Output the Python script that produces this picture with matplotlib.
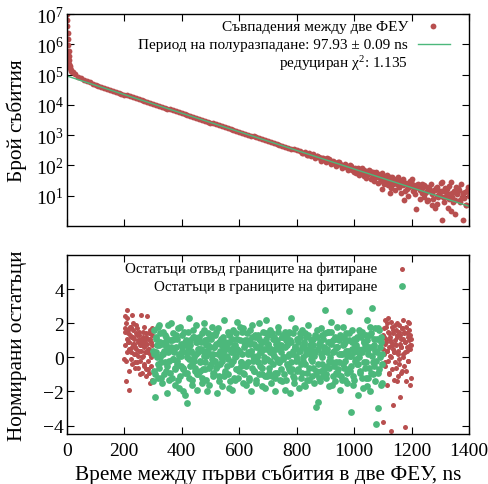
import numpy as np
import matplotlib
matplotlib.use('Agg')
import matplotlib.pyplot as plt
from matplotlib.ticker import LogLocator, NullFormatter, MultipleLocator

plt.rcParams['font.family'] = ['Liberation Serif', 'DejaVu Serif']
plt.rcParams['mathtext.fontset'] = 'custom'
plt.rcParams['mathtext.rm'] = 'Liberation Serif'
plt.rcParams['mathtext.it'] = 'Liberation Serif:italic'

RED = '#b84f4f'
GREEN = '#4cb87b'

# --- top panel: coincidence histogram (counts per bin) ---
# steep prompt peak at the very start
spike_time = [0, 1, 2, 3, 4, 5, 6, 7, 8, 9, 10, 12, 14, 16, 18]
spike_counts = [1.0e7, 6.5e6, 4.0e6, 2.4e6, 1.5e6, 9.5e5, 6.2e5, 4.2e5, 3.0e5,
                2.3e5, 1.9e5, 1.6e5, 1.4e5, 1.3e5, 1.25e5]

# main decay, one value every 10 ns from 20 to 1400 ns
decay_time = np.arange(20, 1401, 10)
decay_counts = [
    1.20e5, 1.02e5, 8.6e4, 7.5e4, 6.7e4, 6.0e4, 5.5e4, 5.0e4, 4.65e4, 4.25e4,
    3.92e4, 3.63e4, 3.37e4, 3.13e4, 2.92e4, 2.72e4, 2.52e4, 2.35e4, 2.19e4, 2.04e4,
    1.90e4, 1.77e4, 1.64e4, 1.535e4, 1.43e4, 1.33e4, 1.24e4, 1.155e4, 1.075e4, 1.00e4,
    9350, 8710, 8110, 7550, 7050, 6560, 6110, 5690, 5310, 4940,
    4600, 4290, 4000, 3720, 3470, 3230, 3010, 2810, 2610, 2430,
    2270, 2110, 1970, 1840, 1710, 1590, 1480, 1380, 1290, 1200,
    1120, 1040, 970, 904, 841, 785, 731, 681, 634, 592,
    551, 513, 478, 446, 415, 386, 361, 336, 313, 300,
    265, 262, 228, 225, 198, 200, 170, 172, 160, 138,
    141, 128, 112, 113, 98, 99, 84, 86, 78, 69,
    72, 58, 62, 51, 55, 44, 49, 39, 42, 33,
    38, 29, 33, 25, 29, 22, 27, 19, 24, 16,
    21, 15, 19, 13, 17, 11, 16, 10, 14, 9,
    13, 8, 12, 7, 11, 6, 12, 5, 10,
]

# extra scattered bins in the noisy tail
tail_time = [905, 925, 945, 965, 985, 1005, 1015, 1025, 1035, 1045,
             1055, 1065, 1075, 1085, 1095, 1097, 1105, 1115, 1124, 1125,
             1135, 1145, 1155, 1165, 1174, 1175, 1185, 1195, 1202, 1205,
             1215, 1217, 1225, 1235, 1238, 1245, 1253, 1255, 1265, 1275,
             1282, 1285, 1290, 1295, 1305, 1306, 1307, 1315, 1325, 1335,
             1336, 1339, 1345, 1355, 1365, 1375, 1380, 1383, 1385, 1395]
tail_counts = [170, 121, 131, 93, 100, 68, 82, 57, 70, 48,
               66, 62, 40, 53, 30, 17, 45, 28, 12, 41,
               24, 35, 19, 31, 7, 26, 17, 30, 35, 14,
               22, 3.7, 18, 12, 25, 9, 6.9, 20, 14, 8,
               4, 18, 5.4, 11, 1.6, 14, 28, 9, 17, 11,
               3.2, 28, 6, 20, 15, 9, 1.6, 8.2, 13, 17]

# more tail bins, (time ns, counts)
tail_pairs = [
    (822, 250), (828, 280), (836, 215), (843, 250), (851, 205), (857, 240), (864, 170),
    (871, 205), (878, 185), (884, 140), (892, 180), (898, 150), (903, 125), (912, 160),
    (918, 110), (927, 145), (933, 118), (938, 95), (947, 125), (953, 100), (958, 80),
    (967, 110), (972, 88), (978, 70), (988, 95), (993, 72), (998, 60),
    (1003, 85), (1008, 55), (1013, 75), (1018, 48), (1023, 68), (1028, 80), (1033, 45),
    (1038, 62), (1043, 38), (1048, 58), (1053, 70), (1058, 36), (1063, 52), (1068, 30),
    (1072, 47), (1078, 60), (1082, 27), (1088, 44), (1093, 35), (1098, 55), (1103, 25),
    (1108, 38), (1113, 48), (1118, 22), (1123, 36), (1128, 18), (1133, 42), (1138, 26),
    (1143, 15), (1148, 32), (1153, 40), (1158, 20), (1163, 12), (1168, 28), (1172, 35),
    (1178, 14), (1183, 24), (1188, 10), (1193, 22), (1198, 30), (1208, 20), (1212, 11),
    (1222, 25), (1228, 8), (1232, 16), (1242, 22), (1248, 12), (1258, 7), (1262, 18),
    (1268, 24), (1272, 5), (1278, 15), (1288, 20), (1292, 9), (1298, 13), (1302, 26),
    (1312, 6), (1318, 18), (1322, 11), (1328, 4), (1332, 21), (1342, 9), (1348, 14),
    (1352, 2.5), (1358, 12), (1362, 18), (1368, 7), (1372, 25), (1378, 11), (1388, 5),
    (1392, 14), (1398, 20),
]

# fitted exponential (straight line on the log axis)
fit_time = [0, 1400]
fit_counts = [9.0e4, 4.5]

# --- bottom panel: normalised residuals ---
res_out_left_time = np.arange(200, 300, 1)
res_out_left = [
    -0.1, 0.7, 1.7, 1.5, 2.4, -0.2, -1.4, 2.0, 2.3, 1.1, 2.8, 0.3, 0.9, 1.6, 1.4, -0.8, -1.9, 0.9, 0.5, 1.3,
    1.8, 0.4, 0.3, 1.8, 1.2, -0.1, 2.5, 0.6, -0.4, 1.2, 0.8, 2.0, 1.6, 0.2, 1.1, 0.8, -0.3, -0.6, 0.6, 1.4,
    1.9, 0.5, 0.2, 1.7, 1.3, -0.3, -0.6, 1.0, 0.9, 0.1, 1.5, 1.3, 0.4, 0.7, -0.2, -1.0, 1.0, 0.4, 2.5, 1.1,
    0.7, 0.9, -0.9, 0.0, 1.2, 1.5, 0.1, -0.4, 1.8, 0.6, -0.5, 1.0, 0.8, 0.3, 1.4, -0.7, -1.1, 1.2, 0.3, 0.8,
    2.4, -0.2, -0.7, 0.5, 1.1, 1.4, 0.5, -0.9, -1.5, 0.2, 1.6, 1.1, 0.0, -0.5, 0.9, 0.7, -1.3, 1.3, 1.7, 0.4,
]
res_out_right_time = np.arange(1100, 1200, 1)
res_out_right = [
    0.5, 1.3, -3.8, 0.2, 1.2, 1.7, 2.2, -0.5, -0.3, 0.8, 0.9, 1.1, 1.8, 0.4, -1.6, 2.0, 0.4, -0.2, 2.3, 1.5,
    1.4, 0.6, -0.9, -1.0, 0.1, 1.2, 1.0, 0.9, -4.3, 0.0, 2.1, 1.8, 0.7, -0.7, -2.8, 0.5, 1.6, 1.4, 0.3, 0.3,
    -1.3, 1.0, 1.9, -0.3, 0.8, 1.6, -0.6, 0.7, 1.3, -1.4, 2.0, 1.2, 0.2, 0.4, -1.1, 1.9, 1.5, -0.1, -0.4, 0.8,
    -2.3, 1.3, 1.1, -0.9, 0.6, 0.6, 1.7, 1.7, -0.8, 0.2, 2.2, 1.1, 0.0, -0.5, 1.4, 1.5, -4.1, 0.9, 0.9, 0.3,
    1.8, -0.8, -1.4, 1.4, 0.4, 0.6, 1.2, 2.1, -0.2, -0.2, 2.0, 1.0, 1.6, 0.5, -1.6, 1.3, 0.7, -1.2, 1.1, 0.7,
]
res_in_time = np.arange(300, 1100, 2)
res_in = [
    -1.4, 0.2, 1.6, -1.0, -2.3, 1.2, 0.3, 0.7, 1.8, -0.4, -0.6, 1.9, 0.9, 0.0, -1.2, -1.5, 0.2, 0.8, 1.5, 0.4,
    -0.3, 1.3, 0.7, -0.8, -2.1, 0.6, 1.9, -0.2, 0.4, 1.0, -0.9, 0.5, 2.0, -1.2, -0.1, 1.4, 1.1, 0.3, -1.6, -0.6,
    0.6, 1.1, -0.4, -1.3, 1.7, 0.2, -1.8, 1.8, 0.1, -0.5, 1.3, 0.6, -0.7, -2.0, 0.8, 0.9, -2.2, 0.3, 1.0, -0.9,
    -2.7, 1.5, 2.3, -0.1, -0.5, 0.7, 0.4, -1.6, -1.3, 1.2, 1.6, 0.0, -0.2, -0.6, 0.9, 1.9, -1.9, -1.0, 0.3, 0.5,
    1.2, -0.2, -0.8, 0.9, 0.5, -1.2, -1.5, 0.4, 2.0, 1.6, -0.3, -0.7, 0.7, 0.1, -2.0, 1.1, 1.4, -1.6, -0.6, 0.6,
    0.2, -0.4, 1.8, 1.3, -1.1, 0.2, 0.6, -1.0, -0.2, 0.8, 1.5, -0.5, -2.1, 1.7, 0.9, -1.4, -0.4, 0.4, 1.1, 0.0,
    -1.7, 0.6, 0.3, -1.1, 2.2, 0.9, -0.9, 0.1, 0.8, -0.5, -0.1, 1.5, 1.3, -1.8, -1.4, 0.3, 0.5, 1.1, -1.9, -0.2,
    1.6, 0.7, 0.0, -1.3, -0.7, 1.4, 2.1, 0.5, -1.2, -0.8, 0.4, 1.8, 1.0, -0.3, -0.5, 0.2, 1.7, -1.5, -1.0, 0.9,
    0.7, -0.4, -1.6, 1.0, 1.4, 0.3, -0.3, -1.2, 0.9, 1.6, -2.0, 0.4, 1.9, -0.6, 0.1, 0.8, -0.8, 1.3, 1.2, -1.5,
    -1.3, 0.1, 0.6, -0.3, 2.0, 1.1, -0.5, 0.6, 0.3, -1.0, -1.7, 0.9, 1.5, 0.0, -0.2, -1.8, 2.2, 1.4, -1.1, 0.5,
    0.8, 1.3, -0.6, -0.2, 1.6, 0.5, -1.5, -1.1, 0.2, 1.1, 1.1, 1.2, -2.0, -0.9, 0.5, -0.1, -0.9, 1.5, 1.8, 0.7,
    -0.3, -1.3, 0.7, 0.3, -1.4, 1.2, 1.3, -0.1, 0.0, 1.5, -1.9, -1.3, 1.0, 0.7, -0.4, 0.1, 1.5, -0.7, -2.1, 1.0,
    2.3, -0.3, -0.7, 1.4, 0.4, -1.5, -1.2, 0.6, 1.7, 0.1, -0.1, -0.8, 0.9, 1.1, -1.8, 0.4, 1.2, -1.2, -0.4, 1.6,
    0.6, -0.2, -1.6, 0.9, 1.4, -1.7, 0.2, 0.5, -0.9, 1.3, 1.9, -0.6, -1.3, 0.2, 0.5, 1.0, -0.2, -1.1, 1.1, 0.7,
    -1.5, 0.4, 0.3, -1.0, -2.9, 1.2, 1.6, -0.4, -2.6, 0.8, 0.7, -1.4, -0.8, 1.7, 1.3, 0.0, -1.1, -0.7, 0.4, 1.4,
    2.8, -1.2, -0.5, 0.5, 1.5, 0.9, -1.7, -0.2, 0.9, 1.5, 2.1, -1.6, -0.3, 0.3, 1.0, -0.5, -1.4, 1.1, 0.6, -0.9,
    1.8, 0.6, -1.0, -0.3, 0.2, 1.3, -1.9, -1.1, 1.2, 0.2, -0.4, 1.8, 0.8, -0.6, -1.3, 0.9, 1.4, -1.5, 0.1, 0.4,
    -0.7, 1.0, 2.7, -0.8, -3.2, 0.1, 0.5, 1.6, -1.6, -1.3, 1.1, 0.7, -0.2, -0.1, 0.7, 1.2, -2.2, -0.4, 1.6, 0.3,
    -0.9, 1.5, 0.4, -1.2, 1.5, 0.5, -1.8, 0.9, 0.9, -0.6, -0.3, 1.3, 2.2, -1.7, -1.2, 0.2, 0.6, 1.8, -2.0, -0.9,
    1.4, 0.6, 2.9, -0.3, -0.5, 1.1, 1.7, -1.4, -3.9, 0.4, 0.3, 1.7, -3.0, -0.7, 1.6, 0.0, -1.6, 1.2, 0.2, -1.5,
]
# odd bins inside the fit range (every 4 ns)
res_in_odd_time = np.arange(301, 1100, 4)
res_in_odd = [
    0.4, -0.8, 1.1, 0.0, -1.2, 0.7, 1.4, -0.3, 0.2, -1.0, 0.9, 1.2, -0.5, 0.3, -1.3, 0.6, 1.0, -0.1, 0.5, -0.7,
    1.3, -0.2, 0.1, -1.1, 0.8, 0.4, -0.6, 1.5, -0.9, 0.0, 0.6, -1.2, 1.0, 0.3, -0.4, 1.2, -0.8, 0.2, 0.9, -1.0,
    0.5, -0.3, 1.4, -0.7, 0.1, 1.0, -1.3, 0.4, 0.7, -0.5, 1.1, -0.1, -0.9, 0.6, 1.3, -0.6, 0.2, -1.1, 0.8, 0.3,
    -0.2, 1.2, -0.8, 0.5, 0.0, -1.0, 0.9, 1.4, -0.4, 0.3, -1.2, 0.7, 0.1, 1.1, -0.7, 0.4, -0.3, 1.5, -0.9, 0.6,
    1.0, -0.5, 0.2, -1.3, 0.8, 0.4, 1.2, -0.2, -0.8, 0.6, 0.0, 1.3, -1.0, 0.3, 0.9, -0.6, 0.5, -1.1, 1.1, -0.1,
    0.7, -0.9, 0.3, 1.4, -0.4, 0.1, -1.2, 0.8, 1.0, -0.3, 0.5, -0.7, 1.2, 0.0, -1.0, 0.6, 1.3, -0.5, 0.2, -0.8,
    0.9, 0.2, -1.1, 0.6, -0.2, 1.1, -0.7, 0.4, 1.4, -0.9, 0.0, 0.8, -0.4, 1.2, -1.3, 0.3, 0.7, -0.1, 1.0, -0.6,
    0.1, 1.3, -0.8, 0.5, -1.2, 0.9, 0.2, -0.4, 1.1, 0.6, -1.0, 0.3, 1.5, -0.6, 0.0, 0.8, -1.1, 0.4, 1.2, -0.3,
    0.6, -0.7, 1.0, 0.2, -1.3, 0.7, 1.2, -0.2, 0.4, -0.9, 1.4, 0.1, -0.5, 0.9, -1.1, 0.3, 1.1, -0.4, 0.5, 0.0,
    -0.8, 1.2, 0.3, -0.3, 0.8, -1.2, 1.0, 0.5, -0.6, 1.3, 0.1, -1.0, 0.7, 0.4, -0.2, 1.1, -0.9, 0.6, 0.9, -0.4,
]

fig = plt.figure(figsize=(4.88, 4.85), dpi=100)
ax1 = fig.add_axes([0.137, 0.532, 0.824, 0.437])
ax2 = fig.add_axes([0.137, 0.103, 0.824, 0.369])

# top panel
tail2_time, tail2_counts = np.array(tail_pairs).T
ax1.plot(spike_time, spike_counts, 'o', color=RED, ms=4.2, mec='none')
ax1.plot(decay_time, decay_counts, 'o', color=RED, ms=4.2, mec='none')
ax1.plot(tail_time, tail_counts, 'o', color=RED, ms=4.2, mec='none')
ax1.plot(tail2_time, tail2_counts, 'o', color=RED, ms=4.2, mec='none')
ax1.plot(fit_time, fit_counts, '-', color=GREEN, lw=1.0)
ax1.set_yscale('log')
ax1.set_xlim(0, 1400)
ax1.set_ylim(1, 1e7)
ax1.set_yticks([10.0 ** k for k in range(1, 8)])
ax1.yaxis.set_minor_locator(LogLocator(base=10, subs=np.arange(2, 10)))
ax1.yaxis.set_minor_formatter(NullFormatter())
ax1.xaxis.set_major_locator(MultipleLocator(200))
ax1.tick_params(labelbottom=False)
ax1.set_ylabel('Брой събития', fontsize=15.3)
ax1.yaxis.set_label_coords(-0.10, 0.5)

# legend drawn by hand, gnuplot style (text right-aligned, key on the right)
ax1.text(0.848, 0.943, 'Съвпадения между две ФЕУ', transform=ax1.transAxes,
         ha='right', va='center', fontsize=11)
ax1.plot([0.910], [0.943], 'o', color=RED, ms=4.2, mec='none', transform=ax1.transAxes, clip_on=False)
ax1.text(0.848, 0.858, 'Период на полуразпадане: 97.93 ± 0.09 ns', transform=ax1.transAxes,
         ha='right', va='center', fontsize=11)
ax1.plot([0.873, 0.953], [0.858, 0.858], '-', color=GREEN, lw=1.0, transform=ax1.transAxes)
ax1.text(0.848, 0.772, 'редуциран χ$^2$: 1.135', transform=ax1.transAxes,
         ha='right', va='center', fontsize=11)

# bottom panel
ax2.plot(res_out_left_time, res_out_left, 'o', color=RED, ms=3.6, mec='none')
ax2.plot(res_out_right_time, res_out_right, 'o', color=RED, ms=3.6, mec='none')
ax2.plot(res_in_time, res_in, 'o', color=GREEN, ms=4.9, mec='none')
ax2.plot(res_in_odd_time, res_in_odd, 'o', color=GREEN, ms=4.9, mec='none')
ax2.set_xlim(0, 1400)
ax2.set_ylim(-4.5, 6)
ax2.set_yticks([-4, -2, 0, 2, 4])
ax2.xaxis.set_major_locator(MultipleLocator(200))
ax2.set_ylabel('Нормирани остатъци', fontsize=15.3)
ax2.yaxis.set_label_coords(-0.10, 0.5)
ax2.set_xlabel('Време между първи събития в две ФЕУ, ns', fontsize=15.3, labelpad=3)

ax2.text(0.771, 0.925, 'Остатъци отвъд границите на фитиране', transform=ax2.transAxes,
         ha='right', va='center', fontsize=10.8)
ax2.plot([0.833], [0.925], 'o', color=RED, ms=3.6, mec='none', transform=ax2.transAxes, clip_on=False)
ax2.text(0.771, 0.825, 'Остатъци в границите на фитиране', transform=ax2.transAxes,
         ha='right', va='center', fontsize=10.8)
ax2.plot([0.833], [0.825], 'o', color=GREEN, ms=4.9, mec='none', transform=ax2.transAxes, clip_on=False)

for ax in (ax1, ax2):
    ax.tick_params(which='both', direction='in', top=True, right=True, labelsize=14)
    ax.tick_params(axis='y', pad=2)
    ax.tick_params(axis='x', pad=6)
    ax.tick_params(which='major', length=5, width=0.8)
    ax.tick_params(which='minor', length=2.5, width=0.8)
    for s in ax.spines.values():
        s.set_linewidth(1.0)

fig.savefig('out.png', dpi=100)
